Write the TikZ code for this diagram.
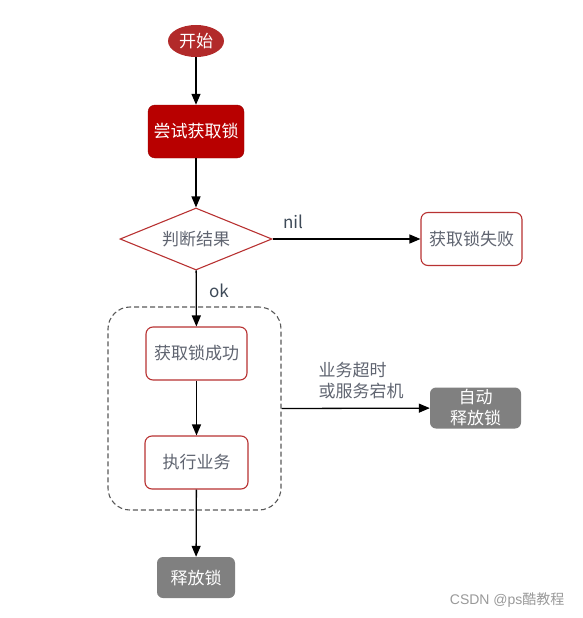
\documentclass[tikz,border=0pt]{standalone}
\usepackage{fontspec}
\setmainfont{Noto Sans CJK SC}
\newfontfamily\markfont{Liberation Sans}
\usetikzlibrary{shapes.geometric,arrows.meta}

\definecolor{lockred}{HTML}{B80000}
\definecolor{startred}{HTML}{B22A2A}
\definecolor{edgered}{HTML}{B83232}
\definecolor{boxtext}{HTML}{5F6470}
\definecolor{labeltext}{HTML}{3E4A58}
\definecolor{autogray}{HTML}{808080}

\begin{document}
\begin{tikzpicture}[x=1pt,y=-1pt,
    every node/.style={font=\fontsize{17}{21}\selectfont},
    flow/.style={line width=1.3pt,-{Triangle[length=11pt,width=9pt]}},
    whitebox/.style={draw=edgered,line width=1.1pt,fill=white,rounded corners=7pt,
        minimum width=101pt,minimum height=53pt,inner sep=0pt,text=boxtext},
    graybox/.style={fill=autogray,rounded corners=6pt,inner sep=0pt,text=white,align=center}
]

    % Page frame
    \useasboundingbox (0,0) rectangle (582,618);

    % Dashed group round the locked part
    \node[draw=black!65,dash pattern=on 5pt off 3pt,line width=1.1pt,rounded corners=22pt,
          minimum width=173pt,minimum height=203pt] (grp) at (194.5,408.5) {};

    % Flow nodes
    \node[ellipse,fill=startred,text=white,minimum width=56pt,minimum height=32pt,inner sep=0pt]
        (start) at (196,41) {开始};
    \node[fill=lockred,draw=lockred!80!black,rounded corners=7pt,text=white,
          minimum width=96pt,minimum height=53pt,inner sep=0pt]
        (try) at (196,131.5) {尝试获取锁};
    \node[diamond,aspect=2.45,draw=edgered,line width=1.1pt,text=boxtext,
          minimum width=152pt,minimum height=62pt,inner sep=0pt]
        (check) at (196,239) {判断结果};
    \node[whitebox] (fail) at (471.5,239) {获取锁失败};
    \node[whitebox] (got) at (196.5,353.5) {获取锁成功};
    \node[whitebox,minimum width=103pt] (work) at (196.5,462.5) {执行业务};
    \node[graybox,minimum width=78pt,minimum height=41pt] (rel) at (196,577.5) {释放锁};
    \node[graybox,minimum width=91pt,minimum height=41pt] (auto) at (475.5,408)
        {自动\\释放锁};

    % Connectors
    \draw[flow] (start) -- (try);
    \draw[flow] (try) -- (check);
    \draw[flow] (check) -- (fail);
    \draw[flow] (check) -- (got);
    \draw[flow] (got) -- (work);
    \draw[flow] (work) -- (rel);
    \draw[flow] (grp.east) -- (auto);

    % Labels
    \node[text=labeltext] (nil) at (293,222) {nil};
    \node[text=labeltext] (ok) at (219,291) {ok};
    \node[text=boxtext,align=left,anchor=west] (why) at (315,381)
        {业务超时\\或服务宕机};

    % Watermark
    \node[text=black!40,font=\fontsize{14}{16}\markfont,anchor=east] (mark) at (568,600)
        {CSDN @ps\fontspec{Noto Sans CJK SC}酷教程};

\end{tikzpicture}
\end{document}
